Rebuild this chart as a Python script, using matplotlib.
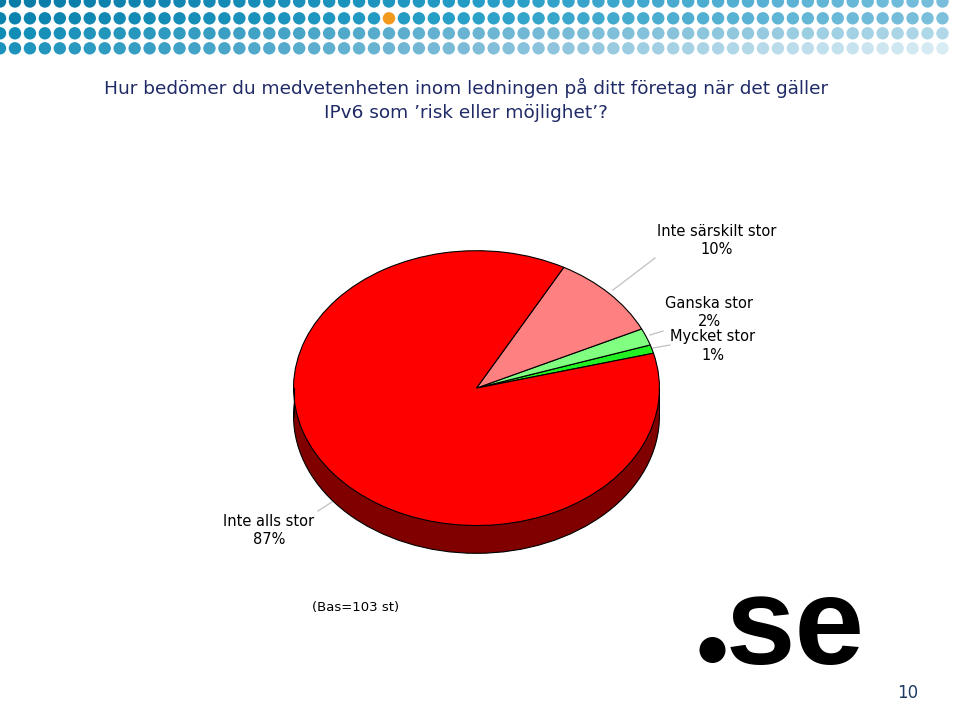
# -*- coding: utf-8 -*-
"""
Tårtdiagram (3D-stil): medvetenhet om IPv6 i ledningen
"""

import numpy as np
import matplotlib
matplotlib.use("Agg")
import matplotlib.pyplot as plt
from matplotlib.patches import Ellipse, Rectangle, Circle

# Data (räknas moturs från startvinkeln)
kategorier = ["Mycket stor", "Ganska stor", "Inte särskilt stor", "Inte alls stor"]
andelar = [1, 2, 10, 87]
farger = ["#22f022", "#80ff80", "#ff8080", "#ff0000"]
etiketter = [f"{k}\n{v}%" for k, v in zip(kategorier, andelar)]

titel = ("Hur bedömer du medvetenheten inom ledningen på ditt företag när det gäller\n"
         "IPv6 som ’risk eller möjlighet’?")
bas_text = "(Bas=103 st)"
sidnummer = "10"

W, H = 960, 705

# Prickfärger per rad: vänster, mitten, höger (RGB 0-255)
prick_ankare = [
    [(8, 122, 166), (36, 156, 198), (120, 190, 220)],
    [(10, 130, 173), (42, 160, 200), (124, 192, 220)],
    [(14, 140, 181), (106, 180, 210), (176, 216, 232)],
    [(26, 146, 187), (126, 188, 216), (216, 236, 244)],
]


def rita_prickar(ax):
    """Ritar prickmönstret i sidhuvudet."""
    rader = [1.5, 18.3, 33.3, 48.3]
    for r, y in enumerate(rader):
        ank = np.array(prick_ankare[r]) / 255
        for k in range(65):
            x = 14.96 * k
            if x > 956:
                continue
            t = k / 63
            c = [np.interp(t, [0, 0.5, 1], ank[:, i]) for i in range(3)]
            if r == 1 and k == 26:
                c = "#f39a1e"
            ax.add_patch(Circle((x, y), 6.2, facecolor=c, edgecolor="none"))
    # kapa sista kolumnen vid högerkanten
    ax.add_patch(Rectangle((956, 0), 10, 60, facecolor="white", edgecolor="none"))


def main():
    fig = plt.figure(figsize=(W / 100, H / 100), dpi=100)
    bg = fig.add_axes([0, 0, 1, 1])
    bg.set_xlim(0, W)
    bg.set_ylim(H, 0)
    bg.axis("off")

    rita_prickar(bg)

    bg.text(466, 100, titel, ha="center", va="center", color="#1f2a66",
            fontsize=13.3, linespacing=1.4)

    # Tårtan
    px0, px1, py0, py1 = 293, 660, 250, 554
    djup = 28 / 138.5
    ax = fig.add_axes([px0 / W, (H - py1) / H, (px1 - px0) / W, (py1 - py0) / H])
    ax.add_patch(Ellipse((0, -djup), 2, 2, facecolor="#800000",
                         edgecolor="black", linewidth=0.8))
    ax.add_patch(Rectangle((-1, -djup), 2, djup, facecolor="#800000", edgecolor="none"))
    ax.plot([-1, -1], [-djup, 0], color="black", lw=0.8)
    ax.plot([1, 1], [-djup, 0], color="black", lw=0.8)
    ax.pie(andelar, colors=farger, startangle=14.7, counterclock=True,
           wedgeprops=dict(edgecolor="black", linewidth=0.8))
    ax.set_aspect("auto")
    ax.set_xlim(-1.003, 1.003)
    ax.set_ylim(-1 - djup - 0.005, 1.005)
    ax.axis("off")

    # Etiketter med ledarlinjer
    pos = {
        "Inte särskilt stor": (717, 241, [(613, 290), (655, 258)]),
        "Ganska stor": (709, 313, [(650, 335), (663, 331)]),
        "Mycket stor": (713, 346, [(653, 348), (670, 345)]),
        "Inte alls stor": (269, 530, [(318, 511), (332, 502)]),
    }
    for kat, et in zip(kategorier, etiketter):
        x, y, linje = pos[kat]
        (x0, y0), (x1, y1) = linje
        bg.plot([x0, x1], [y0, y1], color="#c0c0c0", lw=0.9)
        bg.text(x, y, et, ha="center", va="center", fontsize=10.5,
                linespacing=1.25, color="black", zorder=5)

    bg.text(356, 607, bas_text, ha="center", va="center", fontsize=9.5)

    # .se-logga
    bg.add_patch(Circle((712.5, 650), 13, facecolor="black", edgecolor="none"))
    bg.text(726, 664, "se", ha="left", va="baseline", fontsize=90,
            fontweight="bold", family="Liberation Sans", color="black")

    bg.text(908, 693, sidnummer, ha="center", va="center", fontsize=12,
            color="#1f3a64")

    fig.savefig("out.png", dpi=100)


if __name__ == "__main__":
    main()
